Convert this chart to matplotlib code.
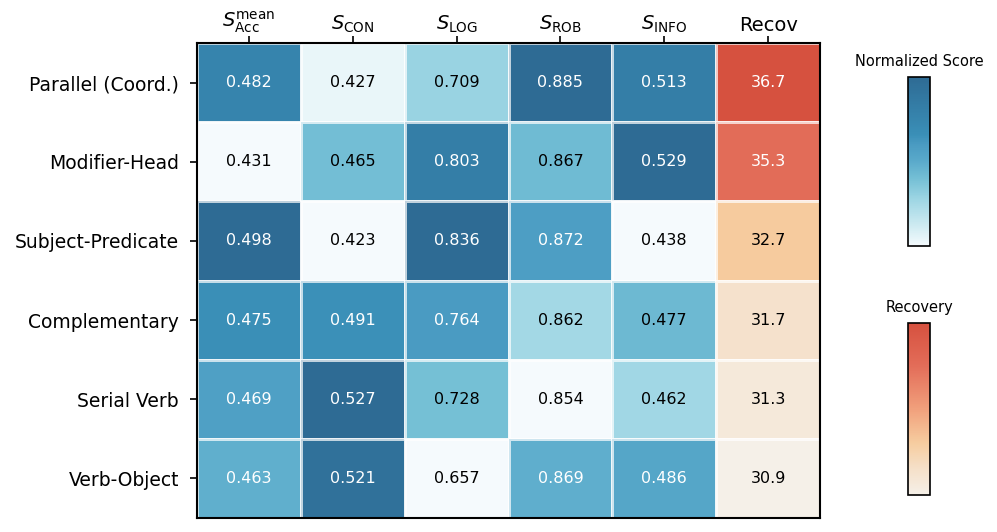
import numpy as np
import matplotlib
matplotlib.use("Agg")
import matplotlib.pyplot as plt
from matplotlib.colors import LinearSegmentedColormap, Normalize
from matplotlib.colorbar import ColorbarBase

rows = ["Parallel (Coord.)", "Modifier-Head", "Subject-Predicate",
        "Complementary", "Serial Verb", "Verb-Object"]
col_labels = [r"$S_{\mathrm{Acc}}^{\mathrm{mean}}$", r"$S_{\mathrm{CON}}$",
              r"$S_{\mathrm{LOG}}$", r"$S_{\mathrm{ROB}}$",
              r"$S_{\mathrm{INFO}}$", "Recov"]
s_acc = [0.482, 0.431, 0.498, 0.475, 0.469, 0.463]
s_con = [0.427, 0.465, 0.423, 0.491, 0.527, 0.521]
s_log = [0.709, 0.803, 0.836, 0.764, 0.728, 0.657]
s_rob = [0.885, 0.867, 0.872, 0.862, 0.854, 0.869]
s_info = [0.513, 0.529, 0.438, 0.477, 0.462, 0.486]
recov = [36.7, 35.3, 32.7, 31.7, 31.3, 30.9]

columns = [s_acc, s_con, s_log, s_rob, s_info, recov]
fmts = ["{:.3f}"] * 5 + ["{:.1f}"]

blues = LinearSegmentedColormap.from_list("bl", [
    (0.0, "#f5fafd"), (0.05, "#e4f4f8"), (0.28, "#9cd5e3"), (0.4, "#74bfd5"),
    (0.5, "#5aaacb"), (0.6, "#4a9bc2"), (0.66, "#3a8fb7"), (0.8, "#3580a9"),
    (1.0, "#2e6b94")])
reds = LinearSegmentedColormap.from_list("rd", [
    (0.0, "#f5f0e8"), (0.15, "#f5e0c9"), (0.3, "#f6cda0"), (0.5, "#f1a07c"),
    (0.75, "#e36d59"), (1.0, "#d6513f")])

plt.rcParams["font.family"] = "DejaVu Sans"
fig = plt.figure(figsize=(9.97, 5.32), dpi=100)
ax = fig.add_axes([197/997, 1 - 518/532, (820-197)/997, (518-43)/532])

nrows = len(rows)
for j, col in enumerate(columns):
    vals = np.array(col, dtype=float)
    norm = Normalize(vmin=vals.min(), vmax=vals.max())
    cmap = reds if j == len(columns) - 1 else blues
    X = np.array([j, j + 1])
    Y = np.arange(nrows + 1)
    ax.pcolormesh(X, Y, vals.reshape(-1, 1), cmap=cmap, norm=norm,
                  edgecolors=(1, 1, 1, 0.7), linewidth=0.8)
    for i, v in enumerate(vals):
        c = "white" if norm(v) > 0.45 else "black"
        ax.text(j + 0.5, i + 0.5, fmts[j].format(v), ha="center", va="center",
                fontsize=11.5, color=c)

ax.set_xlim(0, len(columns))
ax.set_ylim(nrows, 0)
ax.set_xticks(np.arange(len(columns)) + 0.5)
ax.set_xticklabels(col_labels, fontsize=14)
ax.xaxis.tick_top()
ax.set_yticks(np.arange(nrows) + 0.5)
ax.set_yticklabels(rows, fontsize=13.5)
ax.tick_params(axis="x", length=5, width=1.2, colors="black", pad=1)
ax.tick_params(axis="y", length=5, width=1.2, colors="black", pad=8)
for s in ax.spines.values():
    s.set_linewidth(1.5)
    s.set_color("black")

cax1 = fig.add_axes([908/997, 1 - 246/532, 22/997, (246-77)/532])
cb1 = ColorbarBase(cax1, cmap=blues, norm=Normalize(0, 1))
cb1.set_ticks([])
cb1.outline.set_linewidth(1.2)
cax1.set_title("Normalized Score", fontsize=10.5, pad=8)

cax2 = fig.add_axes([908/997, 1 - 495/532, 22/997, (495-323)/532])
cb2 = ColorbarBase(cax2, cmap=reds, norm=Normalize(0, 1))
cb2.set_ticks([])
cb2.outline.set_linewidth(1.2)
cax2.set_title("Recovery", fontsize=10.5, pad=8)

fig.savefig("out.png", dpi=100)
